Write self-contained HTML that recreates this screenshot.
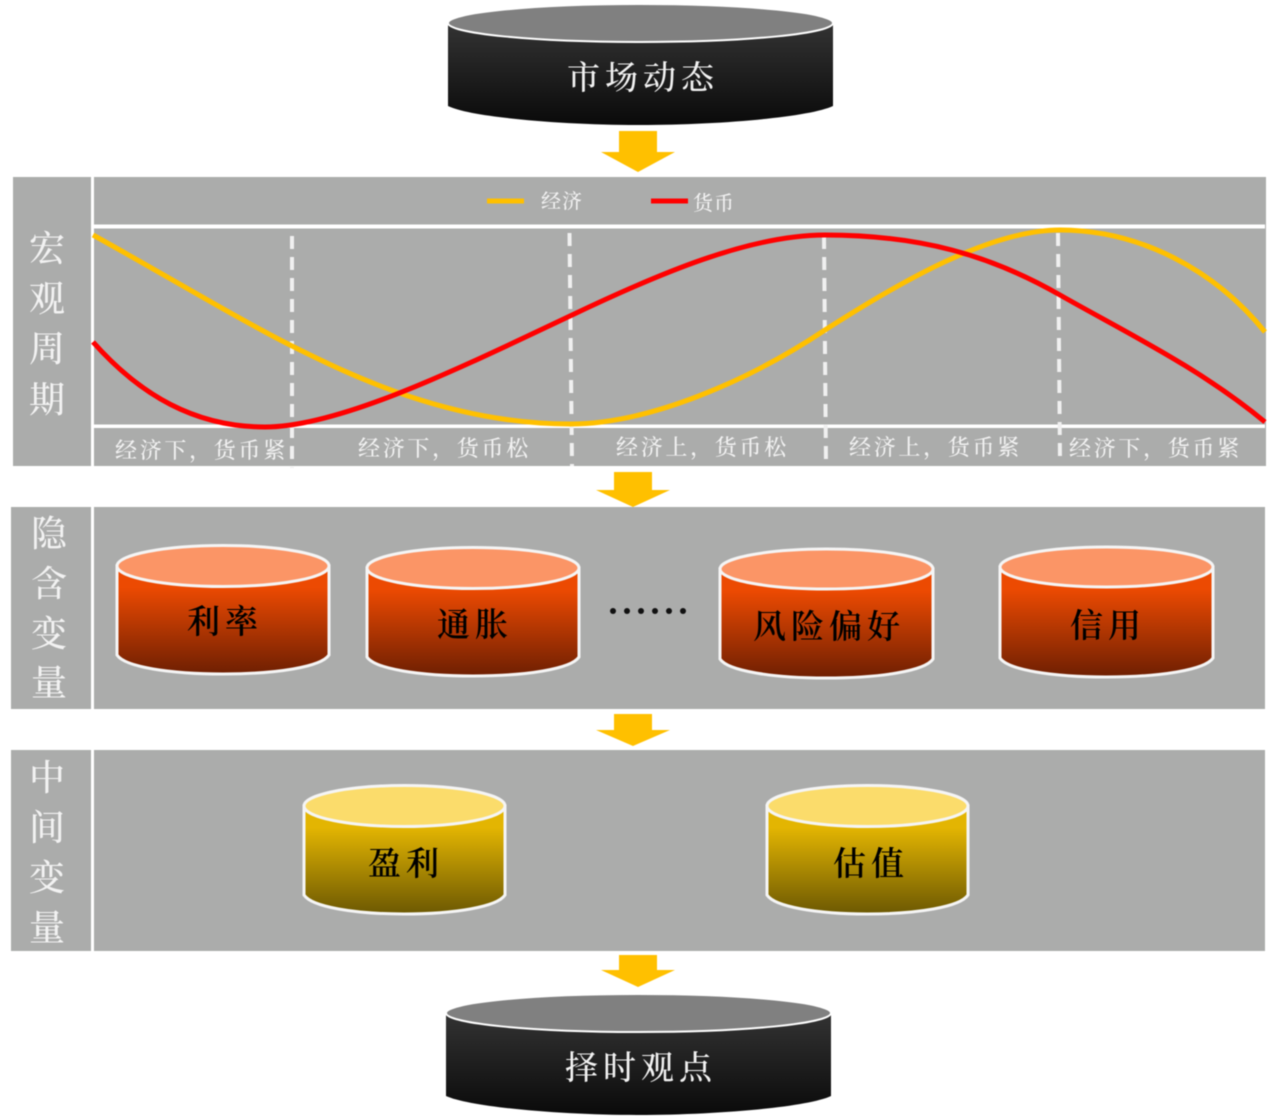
<!DOCTYPE html>
<html><head><meta charset="utf-8"><style>
html,body{margin:0;padding:0;background:#fff}
svg{display:block;filter:blur(.5px)}
text{font-family:"Liberation Serif","Noto Serif CJK SC",serif}
.w{fill:#f2f2f2}.l{font-size:22px;fill:#f2f2f2;letter-spacing:2.700px;font-weight:500}
.s{font-size:36px;fill:#f2f2f2;text-anchor:middle;font-weight:500}
.c{font-size:33px;fill:#000;text-anchor:middle;letter-spacing:5px;font-weight:600}
</style></head><body>
<svg width="1272" height="1116" viewBox="0 0 1272 1116" xmlns="http://www.w3.org/2000/svg">
<defs>
<linearGradient id="k" x1="0" y1="0" x2="0" y2="1"><stop offset="0" stop-color="#333"/><stop offset="1" stop-color="#0a0a0a"/></linearGradient>
<linearGradient id="o" x1="0" y1="0" x2="0" y2="1"><stop offset=".2" stop-color="#ec4a02"/><stop offset="1" stop-color="#6e1f02"/></linearGradient>
<linearGradient id="y" x1="0" y1="0" x2="0" y2="1"><stop offset=".2" stop-color="#e3b502"/><stop offset="1" stop-color="#6c5802"/></linearGradient>
</defs>
<rect x="13" y="177" width="1253" height="289" fill="#abacab"/>
<rect x="11" y="507" width="1254" height="202" fill="#abacab"/>
<rect x="11" y="750" width="1254" height="201" fill="#abacab"/>
<g fill="#fff">
<rect x="91" y="177" width="3" height="289"/>
<rect x="91" y="507" width="3" height="202"/>
<rect x="91" y="750" width="3" height="201"/>
<rect x="94" y="224.500" width="1171" height="4"/>
<rect x="94" y="424.500" width="1171" height="3.500"/>
</g>
<g stroke="#f0f0f0" stroke-width="4" stroke-dasharray="13 8" fill="none">
<path d="M292,236V468"/><path d="M569.500,233L572,466"/><path d="M824,236L826,466"/><path d="M1058,233L1060,462"/>
</g>
<path d="M93,235C160,272 240,320 292,346C350,375 450,424 570,424C650,424 750,380 825,330C900,282 990,230 1060,230C1140,230 1215,270 1265,332" fill="none" stroke="#ffc000" stroke-width="5"/>
<path d="M93,342C140,395 195,427 265,427C340,427 460,368 570,316C660,273 750,235 825,235C920,235 990,255 1060,295C1125,332 1200,368 1265,422" fill="none" stroke="#ff0000" stroke-width="5"/>
<rect x="487" y="198.500" width="37" height="5" fill="#ffc000"/>
<rect x="651" y="198.500" width="37" height="5" fill="#ff0000"/>
<text x="541" y="208" class="w" font-size="20" letter-spacing="1" font-weight="500">经济</text>
<text x="693" y="210" class="w" font-size="20" letter-spacing="1" font-weight="500">货币</text>
<text x="115" y="458" class="l">经济下，货币紧</text>
<text x="358" y="456" class="l">经济下，货币松</text>
<text x="616" y="455" class="l">经济上，货币松</text>
<text x="849" y="455" class="l">经济上，货币紧</text>
<text x="1069" y="456" class="l">经济下，货币紧</text>
<text x="47" y="261" class="s">宏</text><text x="47" y="311" class="s">观</text><text x="47" y="361" class="s">周</text><text x="47" y="412" class="s">期</text>
<text x="49" y="546" class="s">隐</text><text x="49" y="596" class="s">含</text><text x="49" y="646" class="s">变</text><text x="49" y="695" class="s">量</text>
<text x="47" y="790" class="s">中</text><text x="47" y="840" class="s">间</text><text x="47" y="890" class="s">变</text><text x="47" y="940" class="s">量</text>
<g fill="#ffc000">
<path d="M619,131H657V152H675L638,172L601,152H619Z"/>
<path d="M614,472H652V490H670L633,507L596,490H614Z"/>
<path d="M614,714H652V730H670L633,746L596,730H614Z"/>
<path d="M619,955H657V970H675L638,987L601,970H619Z"/>
</g>
<path d="M448,23V106C470,117 560,125 640,125C720,125 810,117 833,106V23Z" fill="url(#k)"/>
<ellipse cx="640.500" cy="23" rx="192.500" ry="19" fill="#808080" stroke="#fff" stroke-width="2"/>
<path d="M446,1013V1096C470,1107 560,1115 638,1115C718,1115 808,1107 831,1096V1013Z" fill="url(#k)"/>
<ellipse cx="638.500" cy="1013" rx="192.500" ry="19" fill="#808080" stroke="#fff" stroke-width="2"/>
<g stroke="#f5f5f5" stroke-width="3">
<path d="M117,566V655C125,667 170,674 223,674C276,674 321,667 329,655V566Z" fill="url(#o)"/>
<ellipse cx="223" cy="566" rx="106" ry="20.500" fill="#fb9566"/>
<path d="M367,568V657C375,669 420,676 473,676C526,676 571,669 579,657V568Z" fill="url(#o)"/>
<ellipse cx="473" cy="568" rx="106" ry="20.500" fill="#fb9566"/>
<path d="M720,569V659C728,671 773,678 826,678C880,678 925,671 933,659V569Z" fill="url(#o)"/>
<ellipse cx="826.500" cy="569" rx="106.500" ry="20" fill="#fb9566"/>
<path d="M1000,567V658C1008,670 1053,677 1106,677C1160,677 1205,670 1213,658V567Z" fill="url(#o)"/>
<ellipse cx="1106.500" cy="567" rx="106.500" ry="20" fill="#fb9566"/>
<path d="M304,806V895C312,907 355,914 404,914C454,914 497,907 505,895V806Z" fill="url(#y)"/>
<ellipse cx="404.500" cy="806" rx="100.500" ry="20.500" fill="#fbdc6b"/>
<path d="M767,806V895C775,907 818,914 867,914C917,914 960,907 968,895V806Z" fill="url(#y)"/>
<ellipse cx="867.500" cy="806" rx="100.500" ry="20.500" fill="#fbdc6b"/>
</g>
<text x="643" y="89" class="c" style="fill:#f2f2f2;font-weight:500">市场动态</text>
<text x="641" y="1079" class="c" style="fill:#f2f2f2;font-weight:500">择时观点</text>
<text x="225" y="633" class="c">利率</text>
<text x="475" y="636" class="c">通胀</text>
<text x="829" y="638" class="c">风险偏好</text>
<text x="1108" y="637" class="c">信用</text>
<text x="406" y="875" class="c">盈利</text>
<text x="871" y="875" class="c">估值</text>
<g fill="#111"><circle cx="613" cy="611" r="3"/><circle cx="627" cy="611" r="3"/><circle cx="641" cy="611" r="3"/><circle cx="655" cy="611" r="3"/><circle cx="669" cy="611" r="3"/><circle cx="683" cy="611" r="3"/></g>
</svg>
</body></html>
